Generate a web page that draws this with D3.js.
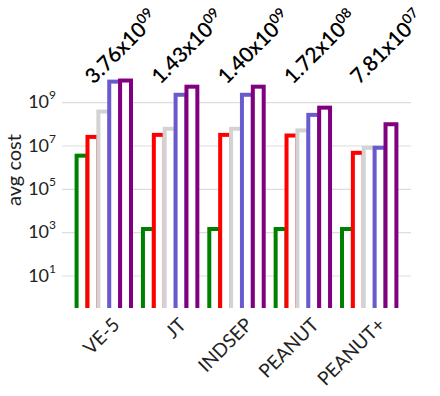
<!DOCTYPE html>
<html><head><meta charset="utf-8">
<script src="https://cdn.jsdelivr.net/npm/d3@7"></script>
<style>body{margin:0;background:#fff}svg{display:block;font-family:Lato,sans-serif}</style>
</head><body><svg width="440" height="396"></svg>
<script>
const categories = ["VE-5","JT","INDSEP","PEANUT","PEANUT+"];
const seriesNames = ["s1","s2","s3","s4","s5"];
const seriesColors = ["#008000","#ff0000","#d3d3d3","#6a5acd","#800080"];
const valuesS1 = [3.4e6, 1.4e3, 1.4e3, 1.4e3, 1.4e3];
const valuesS2 = [2.5e7, 3.1e7, 3.1e7, 2.9e7, 4.6e6];
const valuesS3 = [3.7e8, 5.9e7, 5.9e7, 5.0e7, 7.9e6];
const valuesS4 = [8.9e9, 2.2e9, 2.2e9, 2.6e8, 7.9e6];
const valuesS5 = [1.0e10, 5.2e9, 5.2e9, 5.6e8, 9.6e7];
const labelMantissa = ["3.76","1.43","1.40","1.72","7.81"];
const labelExponent = ["09","09","09","08","07"];
const yTickValues = [1e1,1e3,1e5,1e7,1e9];
const yLabel = "avg cost";

const allSeries = [valuesS1,valuesS2,valuesS3,valuesS4,valuesS5];
const svg = d3.select("svg");
const pLeft = 62, pRight = 411, pTop = 37.2, pBottom = 308;

const x0 = d3.scaleBand().domain(categories).range([pLeft, pRight]).paddingInner(0.18).paddingOuter(0.22);
const x1 = d3.scaleBand().domain(seriesNames).range([0, x0.bandwidth()]).padding(0);
const y = d3.scaleLog().domain([Math.pow(10,-0.5), 1e12]).range([pBottom, pTop]);

// grid + y axis
const yAxis = d3.axisLeft(y).tickValues(yTickValues).tickSize(-(pRight-pLeft)).tickPadding(8)
  .tickFormat(() => "");
const gy = svg.append("g").attr("transform", `translate(${pLeft},0)`).call(yAxis);
gy.select(".domain").remove();
gy.selectAll(".tick line").attr("stroke", "#dddddd").attr("stroke-width", 1.2);
gy.selectAll(".tick text").each(function(d){
  const t = d3.select(this).attr("font-family","Lato,sans-serif").attr("font-size",18).attr("fill","#222").attr("x", -6);
  t.append("tspan").text("10");
  t.append("tspan").attr("font-size", 12).attr("dy", "-0.75em").text(Math.round(Math.log10(d)));
});

svg.append("defs").append("clipPath").attr("id","plotclip")
  .append("rect").attr("x", 0).attr("y", 0).attr("width", 440).attr("height", pBottom);

const bars = svg.append("g").attr("clip-path","url(#plotclip)");
categories.forEach((c, i) => {
  seriesNames.forEach((s, j) => {
    bars.append("rect")
      .attr("x", x0(c) + x1(s))
      .attr("y", y(allSeries[j][i]))
      .attr("width", x1.bandwidth())
      .attr("height", pBottom + 10 - y(allSeries[j][i]))
      .attr("fill", "#fff")
      .attr("stroke", seriesColors[j])
      .attr("stroke-width", 4);
  });
});

// top labels
categories.forEach((c, i) => {
  const cx = x0(c) + x0.bandwidth()/2;
  const t = svg.append("text")
    .attr("transform", `translate(${cx-10},85) rotate(-45)`)
    .attr("font-size", 21).attr("font-weight", 600).attr("fill", "#000");
  t.append("tspan").text(labelMantissa[i] + "x10");
  t.append("tspan").attr("font-size", 14).attr("dy", "-0.6em").text(labelExponent[i]);
});

// x labels
categories.forEach((c) => {
  const cx = x0(c) + x0.bandwidth()/2;
  svg.append("text")
    .attr("transform", `translate(${cx+17},326) rotate(-45)`)
    .attr("text-anchor", "end")
    .attr("font-size", 19).attr("fill", "#222")
    .text(c);
});

svg.append("text")
  .attr("transform", `translate(21,170) rotate(-90)`)
  .attr("text-anchor", "middle")
  .attr("font-size", 20).attr("fill", "#222")
  .text(yLabel);
</script></body></html>
